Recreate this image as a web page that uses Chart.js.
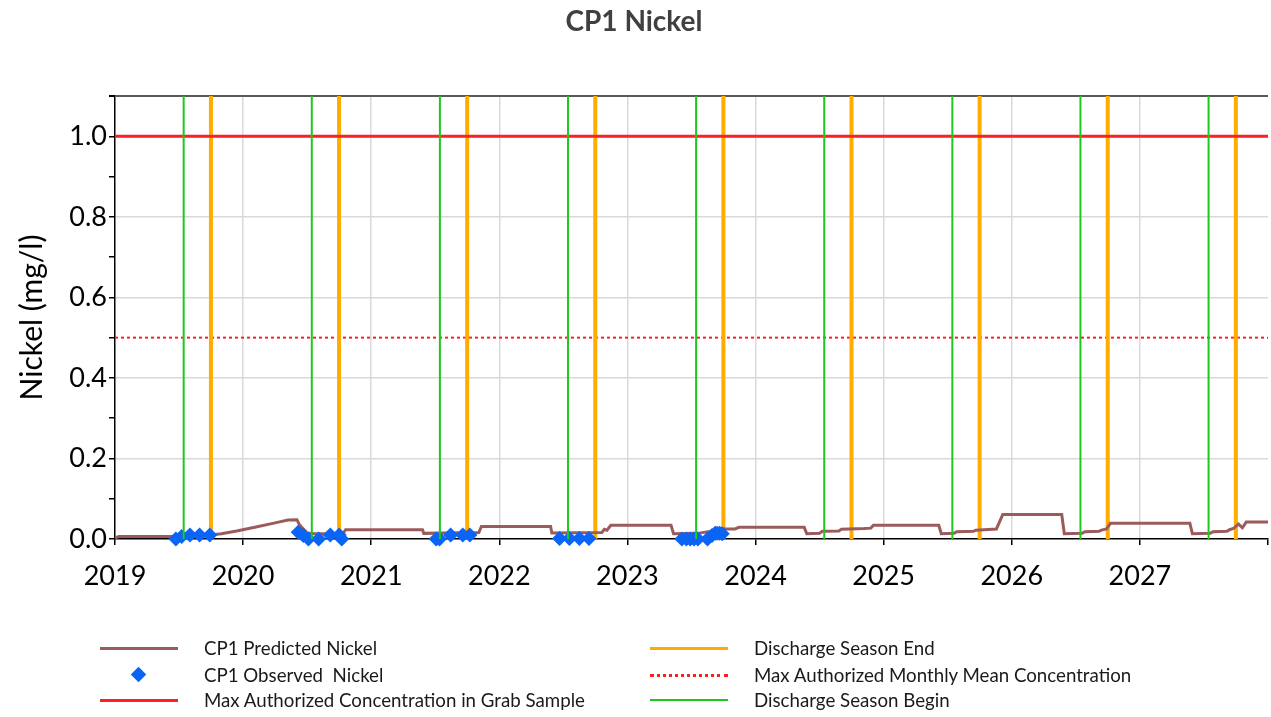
<!DOCTYPE html>
<html>
<head>
<meta charset="utf-8">
<script src="https://cdn.jsdelivr.net/npm/chart.js@4/dist/chart.umd.min.js"></script>
<style>
  body { margin: 0; background: #fff; }
  #wrap { position: relative; width: 1271px; height: 717px; }
  #legend { position: absolute; left: 0; top: 0; width: 1271px; height: 717px; pointer-events: none;
            font-family: Lato, sans-serif; font-size: 18.7px; color: #1a1a1a; }
  .item { position: absolute; height: 24px; line-height: 24px; white-space: nowrap; }
  .sample { position: absolute; top: 11px; width: 78px; }
  .txt { position: absolute; left: 104px; top: 0; white-space: pre; }
</style>
</head>
<body>
<div id="wrap">
  <canvas id="grafico" width="1271" height="717"></canvas>
  <div id="legend"></div>
</div>
<script>
// CP1 Predicted Nickel (decimal years / mg/l)
const predYears = [2019.00, 2019.03, 2019.44, 2019.60, 2019.78, 2019.83, 2019.95, 2020.10, 2020.25, 2020.35, 2020.42,
  2020.44, 2020.50, 2020.55, 2020.78, 2020.80, 2021.40, 2021.41, 2021.84, 2021.86, 2022.40, 2022.41, 2022.80, 2022.82,
  2022.84, 2022.87, 2023.34, 2023.36, 2023.55, 2023.70, 2023.75, 2023.84, 2023.87, 2024.38, 2024.40, 2024.50, 2024.52,
  2024.65, 2024.67, 2024.85, 2024.90, 2024.92, 2025.43, 2025.45, 2025.55, 2025.57, 2025.70, 2025.72, 2025.88, 2025.93,
  2026.39, 2026.41, 2026.55, 2026.57, 2026.68, 2026.70, 2026.74, 2026.77, 2027.39, 2027.41, 2027.55, 2027.57, 2027.68,
  2027.70, 2027.73, 2027.77, 2027.80, 2027.83, 2028.00]
const predValues = [0.003, 0.006, 0.006, 0.009, 0.011, 0.013, 0.020, 0.030, 0.040, 0.047, 0.048,
  0.035, 0.015, 0.013, 0.013, 0.023, 0.023, 0.014, 0.016, 0.031, 0.031, 0.015, 0.016, 0.024,
  0.022, 0.034, 0.034, 0.013, 0.014, 0.022, 0.025, 0.025, 0.029, 0.029, 0.013, 0.014, 0.019,
  0.020, 0.024, 0.026, 0.027, 0.034, 0.034, 0.013, 0.014, 0.018, 0.019, 0.022, 0.025, 0.061,
  0.061, 0.013, 0.014, 0.018, 0.019, 0.022, 0.025, 0.039, 0.039, 0.013, 0.014, 0.018, 0.019,
  0.023, 0.026, 0.037, 0.028, 0.042, 0.042]

// CP1 Observed Nickel
const obsYears = [2019.475, 2019.52, 2019.585, 2019.66, 2019.74,
  2020.43, 2020.47, 2020.51, 2020.59, 2020.68, 2020.75, 2020.77,
  2021.507, 2021.533, 2021.62, 2021.715, 2021.77,
  2022.47, 2022.547, 2022.625, 2022.70,
  2023.425, 2023.46, 2023.49, 2023.52, 2023.55, 2023.625, 2023.66, 2023.685, 2023.70, 2023.72, 2023.74]
const obsValues = [0.000, 0.006, 0.010, 0.010, 0.010,
  0.017, 0.009, 0.000, 0.000, 0.010, 0.010, 0.000,
  0.000, 0.000, 0.010, 0.010, 0.010,
  0.001, 0.001, 0.001, 0.001,
  0.000, 0.000, 0.000, 0.000, 0.000, 0.000, 0.009, 0.014, 0.014, 0.014, 0.013]

// discharge seasons
const seasonBegin = [2019.536, 2020.536, 2021.536, 2022.536, 2023.536, 2024.536, 2025.536, 2026.536, 2027.536]
const seasonEnd = [2019.749, 2020.749, 2021.749, 2022.749, 2023.749, 2024.749, 2025.749, 2026.749, 2027.749]

// limits
const grabLimit = 1.0
const monthlyLimit = 0.5
const xMin = 2019
const xMax = 2028
const yMax = 1.1

const fonte = 'Lato, sans-serif'

/* linha vertical para cada data */
function linhasVerticais(anos) {
    const pts = []
    anos.forEach(a => {
        pts.push({ x: a, y: 0 }, { x: a, y: yMax }, { x: a, y: null })
    })
    return pts
}

const series = [
    {
        label: 'CP1 Predicted Nickel',
        data: predYears.map((a, i) => ({ x: a, y: predValues[i] })),
        borderColor: '#9c5b5b', borderWidth: 3, pointRadius: 0, order: 3
    },
    {
        label: 'CP1 Observed  Nickel',
        data: obsYears.map((a, i) => ({ x: a, y: obsValues[i] })),
        showLine: false, pointStyle: 'rectRot', pointRadius: 7.5, borderWidth: 0,
        backgroundColor: '#0a64f5', borderColor: '#0a64f5', order: 2, clip: false
    },
    {
        label: 'Max Authorized Concentration in Grab Sample',
        data: [{ x: xMin, y: grabLimit }, { x: xMax, y: grabLimit }],
        borderColor: '#ff1e26', borderWidth: 3, pointRadius: 0, order: 1
    },
    {
        label: 'Discharge Season End',
        data: linhasVerticais(seasonEnd),
        borderColor: '#ffab00', borderWidth: 4, pointRadius: 0, order: 4
    },
    {
        label: 'Max Authorized Monthly Mean Concentration',
        data: [{ x: xMin, y: monthlyLimit }, { x: xMax, y: monthlyLimit }],
        borderColor: '#ff1e26', borderWidth: 2, borderDash: [3, 3], pointRadius: 0, order: 5
    },
    {
        label: 'Discharge Season Begin',
        data: linhasVerticais(seasonBegin),
        borderColor: '#1ec81e', borderWidth: 2, pointRadius: 0, order: 0
    }
]

const grafico = new Chart(document.querySelector('#grafico'), {
    type: 'line',
    data: { datasets: series },
    options: {
        responsive: false,
        animation: false,
        layout: { autoPadding: false, padding: { left: 0, right: 3, top: 0, bottom: 0 } },
        plugins: {
            legend: { display: false },
            tooltip: { enabled: false },
            title: {
                display: true,
                text: 'CP1 Nickel',
                color: '#404040',
                font: { family: fonte, size: 28, weight: 'bold' },
                padding: { top: 5, bottom: 57.4 }
            }
        },
        scales: {
            x: {
                type: 'linear',
                min: xMin, max: xMax,
                afterFit: s => { s.height = 178; s.paddingLeft = 0; s.paddingRight = 0 },
                border: { color: '#000', width: 1.5 },
                grid: {
                    color: c => (c.tick && (c.tick.value === xMin || c.tick.value === xMax)) ? 'rgba(0,0,0,0)' : '#d9d9d9',
                    tickColor: '#000', tickLength: 6, lineWidth: 1.5
                },
                ticks: {
                    stepSize: 1,
                    color: '#000',
                    font: { family: fonte, size: 27 },
                    padding: 15,
                    maxRotation: 0,
                    callback: v => v === xMax ? '' : String(v)
                }
            },
            y: {
                min: 0, max: yMax,
                afterFit: s => { s.width = 115 },
                border: { color: '#000', width: 1.5 },
                grid: {
                    color: c => {
                        const k = Math.round(c.tick.value * 10)
                        if (k === 11) return '#595959'
                        if (k === 0 || k % 2) return 'rgba(0,0,0,0)'
                        return '#d9d9d9'
                    },
                    lineWidth: c => Math.round(c.tick.value * 10) === 11 ? 2 : 1.5,
                    tickColor: '#000', tickLength: 6
                },
                ticks: {
                    stepSize: 0.1,
                    color: '#000',
                    font: { family: fonte, size: 27 },
                    padding: 2,
                    callback: v => {
                        const k = Math.round(v * 10)
                        return k % 2 ? '' : (k / 10).toFixed(1)
                    }
                },
                title: {
                    display: true,
                    text: 'Nickel (mg/l)',
                    color: '#000',
                    font: { family: fonte, size: 30 },
                    padding: { top: 14, bottom: 0 }
                }
            }
        }
    }
})

/* legenda em duas colunas */
const colunas = [
    { left: 100, idx: [0, 1, 2] },
    { left: 650, idx: [3, 4, 5] }
]
const linhasY = [636, 663, 688]
const legenda = document.querySelector('#legend')
colunas.forEach(col => {
    col.idx.forEach((i, r) => {
        const ds = grafico.data.datasets[i]
        const item = document.createElement('div')
        item.className = 'item'
        item.style.left = col.left + 'px'
        item.style.top = linhasY[r] + 'px'
        let amostra
        if (ds.showLine === false) {
            amostra = `<div class="sample" style="top:6px;left:33px;width:11px;height:11px;background:${ds.backgroundColor};transform:rotate(45deg)"></div>`
        } else if (ds.borderDash) {
            amostra = `<div class="sample" style="top:11px;height:0;border-top:${ds.borderWidth + 1}px dotted ${ds.borderColor}"></div>`
        } else {
            const h = Math.min(ds.borderWidth, 3)
            amostra = `<div class="sample" style="top:${12 - h / 2}px;height:${h}px;background:${ds.borderColor}"></div>`
        }
        item.innerHTML = amostra + `<span class="txt">${ds.label}</span>`
        legenda.appendChild(item)
    })
})
</script>
</body>
</html>
